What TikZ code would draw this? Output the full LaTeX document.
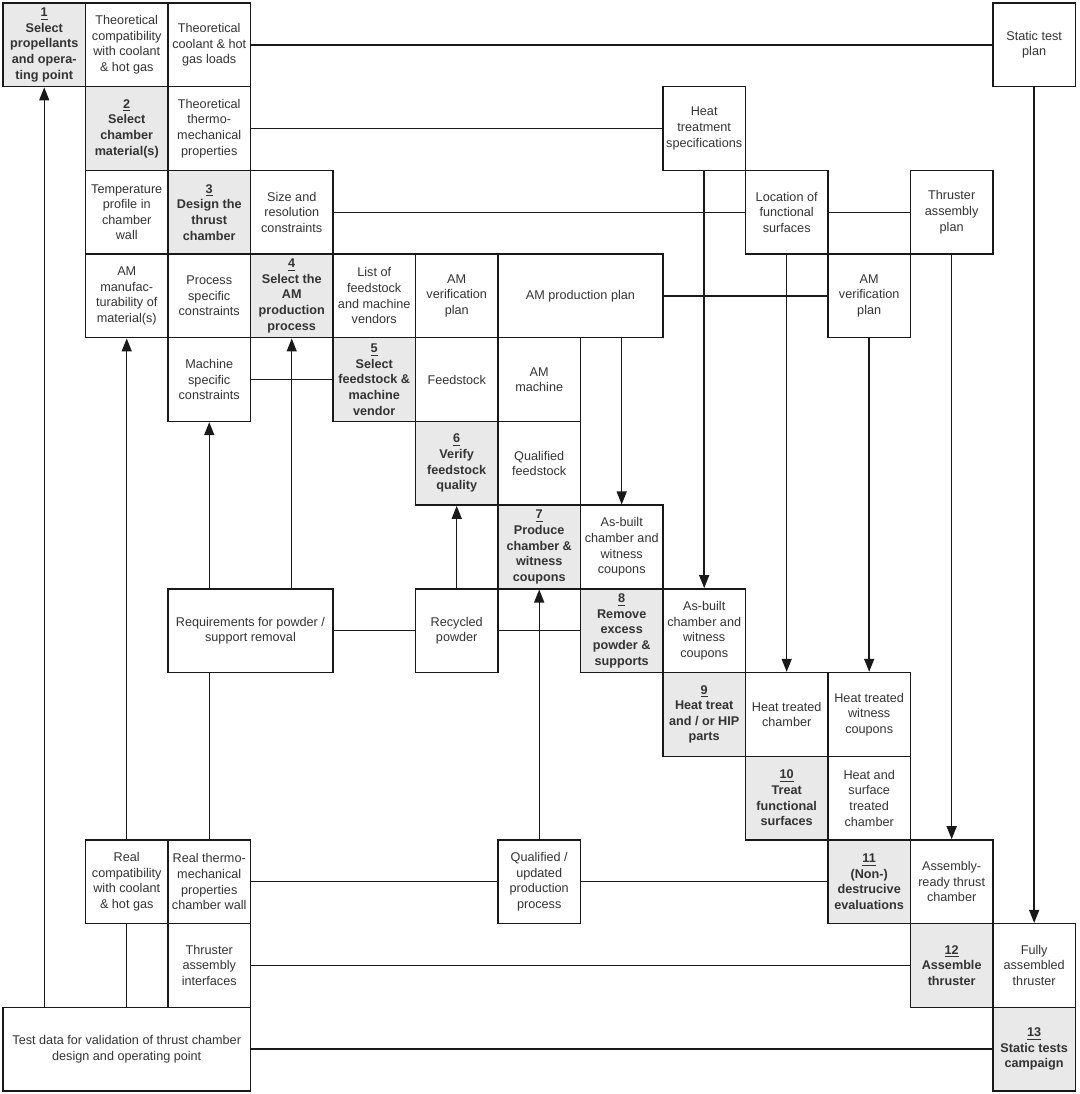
\documentclass[tikz,border=0pt]{standalone}
\usepackage{fontspec}
\setmainfont{Liberation Sans}
\usepackage{xcolor}
\usepackage{tikz}
\usetikzlibrary{arrows.meta}

\begin{document}
\begin{tikzpicture}[x=1.65cm, y=-1.674cm,
    every node/.style={font=\fontsize{7.2}{8.9}\selectfont, text=black!80},
    cellbox/.style={draw=black!90, line width=0.8pt, minimum width=1.65cm, minimum height=1.674cm, align=center, inner sep=1pt},
    taskbox/.style={cellbox, fill=gray!17, font=\fontsize{7.2}{8.9}\selectfont\bfseries},
    wide/.style={cellbox, minimum width=3.3cm},
    link/.style={draw=black!90, line width=0.8pt},
    flow/.style={link, -{Triangle[length=2.6mm, width=2mm]}}]
    \useasboundingbox (0.4636,0.4642) rectangle (13.548,13.536);

    % row 1
    \node[taskbox] (s1) at (1,1) {\underline{1}\\Select\\propellants\\and opera-\\ting point};
    \node[cellbox] (compat) at (2,1) {Theoretical\\compatibility\\with coolant\\\& hot gas};
    \node[cellbox] (loads) at (3,1) {Theoretical\\coolant \& hot\\gas loads};
    \node[cellbox] (testplan) at (13,1) {Static test\\plan};
    % row 2
    \node[taskbox] (s2) at (2,2) {\underline{2}\\Select\\chamber\\material(s)};
    \node[cellbox] (thermo) at (3,2) {Theoretical\\thermo-\\mechanical\\properties};
    \node[cellbox] (heatspec) at (9,2) {Heat\\treatment\\specifications};
    % row 3
    \node[cellbox] (tprofile) at (2,3) {Temperature\\profile in\\chamber\\wall};
    \node[taskbox] (s3) at (3,3) {\underline{3}\\Design the\\thrust\\chamber};
    \node[cellbox] (sizeres) at (4,3) {Size and\\resolution\\constraints};
    \node[cellbox] (funcloc) at (10,3) {Location of\\functional\\surfaces};
    \node[cellbox] (asmplan) at (12,3) {Thruster\\assembly\\plan};
    % row 4
    \node[cellbox] (manuf) at (2,4) {AM\\manufac-\\turability of\\material(s)};
    \node[cellbox] (procon) at (3,4) {Process\\specific\\constraints};
    \node[taskbox] (s4) at (4,4) {\underline{4}\\Select the\\AM\\production\\process};
    \node[cellbox] (vendors) at (5,4) {List of\\feedstock\\and machine\\vendors};
    \node[cellbox] (verif) at (6,4) {AM\\verification\\plan};
    \node[wide] (prodplan) at (7.5,4) {AM production plan};
    \node[cellbox] (verifb) at (11,4) {AM\\verification\\plan};
    % row 5
    \node[cellbox] (machcon) at (3,5) {Machine\\specific\\constraints};
    \node[taskbox] (s5) at (5,5) {\underline{5}\\Select\\feedstock \&\\machine\\vendor};
    \node[cellbox] (feed) at (6,5) {Feedstock};
    \node[cellbox] (machine) at (7,5) {AM\\machine};
    % row 6
    \node[taskbox] (s6) at (6,6) {\underline{6}\\Verify\\feedstock\\quality};
    \node[cellbox] (qfeed) at (7,6) {Qualified\\feedstock};
    % row 7
    \node[taskbox] (s7) at (7,7) {\underline{7}\\Produce\\chamber \&\\witness\\coupons};
    \node[cellbox] (asbuilt) at (8,7) {As-built\\chamber and\\witness\\coupons};
    % row 8
    \node[wide] (powreq) at (3.5,8) {Requirements for powder /\\support removal};
    \node[cellbox] (recyc) at (6,8) {Recycled\\powder};
    \node[taskbox] (s8) at (8,8) {\underline{8}\\Remove\\excess\\powder \&\\supports};
    \node[cellbox] (asbuiltb) at (9,8) {As-built\\chamber and\\witness\\coupons};
    % row 9
    \node[taskbox] (s9) at (9,9) {\underline{9}\\Heat treat\\and / or HIP\\parts};
    \node[cellbox] (htchamber) at (10,9) {Heat treated\\chamber};
    \node[cellbox] (htcoupons) at (11,9) {Heat treated\\witness\\coupons};
    % row 10
    \node[taskbox] (s10) at (10,10) {\underline{10}\\Treat\\functional\\surfaces};
    \node[cellbox] (stchamber) at (11,10) {Heat and\\surface\\treated\\chamber};
    % row 11
    \node[cellbox] (realcompat) at (2,11) {Real\\compatibility\\with coolant\\\& hot gas};
    \node[cellbox] (realthermo) at (3,11) {Real thermo-\\mechanical\\properties\\chamber wall};
    \node[cellbox] (qprocess) at (7,11) {Qualified /\\updated\\production\\process};
    \node[taskbox] (s11) at (11,11) {\underline{11}\\(Non-)\\destrucive\\evaluations};
    \node[cellbox] (readych) at (12,11) {Assembly-\\ready thrust\\chamber};
    % row 12
    \node[cellbox] (interf) at (3,12) {Thruster\\assembly\\interfaces};
    \node[taskbox] (s12) at (12,12) {\underline{12}\\Assemble\\thruster};
    \node[cellbox] (assembled) at (13,12) {Fully\\assembled\\thruster};
    % row 13
    \node[cellbox, minimum width=4.95cm] (testdata) at (2,13) {Test data for validation of thrust chamber\\design and operating point};
    \node[taskbox] (s13) at (13,13) {\underline{13}\\Static tests\\campaign};

    % feed-forward links along the rows
    \draw[link] (loads.east) -- (testplan.west);
    \draw[link] (thermo.east) -- (heatspec.west);
    \draw[link] (sizeres.east) -- (funcloc.west);
    \draw[link] (funcloc.east) -- (asmplan.west);
    \draw[link] (prodplan.east) -- (verifb.west);
    \draw[link] (machcon.east) -- (s5.west);
    \draw[link] (powreq.east) -- (recyc.west);
    \draw[link] (recyc.east) -- (s8.west);
    \draw[link] (realthermo.east) -- (qprocess.west);
    \draw[link] (qprocess.east) -- (s11.west);
    \draw[link] (interf.east) -- (s12.west);
    \draw[link] (testdata.east) -- (s13.west);

    % links along the columns
    \draw[flow] (testdata.north -| s1) -- (s1.south);
    \draw[link] (testdata.north) -- (realcompat.south);
    \draw[flow] (realcompat.north) -- (manuf.south);
    \draw[link] (realthermo.north) -- (powreq.south -| realthermo);
    \draw[flow] (powreq.north -| machcon) -- (machcon.south);
    \draw[flow] (powreq.north -| s4) -- (s4.south);
    \draw[flow] (recyc.north) -- (s6.south);
    \draw[flow] (qprocess.north) -- (s7.south);
    \draw[flow] (prodplan.south -| asbuilt) -- (asbuilt.north);
    \draw[flow] (heatspec.south) -- (asbuiltb.north);
    \draw[flow] (funcloc.south) -- (htchamber.north);
    \draw[flow] (verifb.south) -- (htcoupons.north);
    \draw[flow] (asmplan.south) -- (readych.north);
    \draw[flow] (testplan.south) -- (assembled.north);
\end{tikzpicture}
\end{document}
